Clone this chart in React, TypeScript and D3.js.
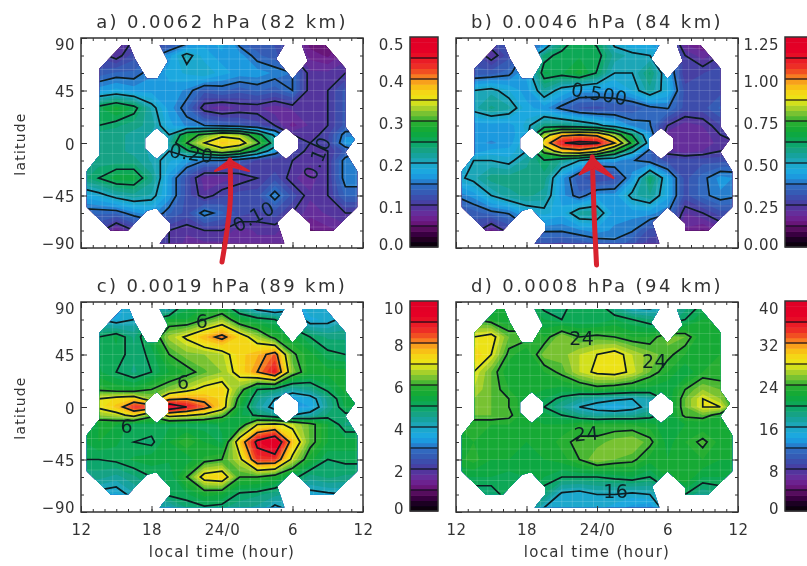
import React, { useEffect, useRef } from "react";
import * as d3 from "d3";

// grid the maps were read on
const hours = [12, 13.5, 15, 16.5, 18, 19.5, 21, 22.5, 24, 25.5, 27, 28.5, 30, 31.5, 33, 34.5, 36];
const lats = [90, 75, 60, 45, 30, 15, 7, 0, -7, -15, -30, -45, -60, -75, -90];

const gridA = [
  [.1, .1, .09, .1, .1, .1, .12, .17, .19, .13, .13, .12, .1, .05, .05, .07, .08],
  [.11, .11, .09, .12, .14, .17, .21, .18, .17, .17, .14, .13, .1, .07, .06, .08, .08],
  [.13, .13, .14, .14, .16, .18, .19, .2, .18, .17, .17, .16, .15, .09, .09, .1, .1],
  [.17, .17, .18, .17, .17, .17, .16, .13, .14, .13, .14, .13, .15, .09, .1, .13, .13],
  [.25, .26, .28, .26, .21, .17, .14, .09, .08, .09, .09, .08, .09, .09, .1, .13, .13],
  [.24, .25, .24, .23, .22, .18, .16, .15, .14, .13, .12, .1, .07, .09, .1, .13, .13],
  [.23, .23, .23, .22, .21, .2, .28, .31, .34, .33, .27, .19, .1, .09, .11, .16, .16],
  [.23, .23, .23, .22, .21, .22, .3, .35, .38, .37, .31, .23, .1, .1, .11, .17, .17],
  [.23, .23, .23, .22, .21, .2, .24, .3, .33, .3, .24, .17, .12, .09, .1, .13, .15],
  [.23, .23, .23, .23, .21, .19, .17, .15, .15, .13, .11, .1, .1, .09, .1, .16, .16],
  [.23, .25, .27, .27, .23, .17, .12, .08, .08, .09, .1, .12, .09, .08, .1, .16, .16],
  [.18, .19, .21, .22, .21, .17, .12, .09, .11, .12, .12, .16, .12, .09, .1, .14, .14],
  [.14, .14, .14, .16, .17, .14, .12, .16, .14, .12, .11, .12, .1, .08, .09, .1, .1],
  [.11, .11, .07, .1, .12, .1, .09, .1, .1, .08, .09, .09, .08, .06, .07, .08, .08],
  [.1, .1, .08, .1, .1, .1, .08, .08, .08, .08, .08, .08, .08, .06, .06, .08, .08],
];

const gridB = [
  [.4, .35, .3, .35, .4, .3, .55, .65, .6, .45, .4, .4, .35, .15, .15, .2, .2],
  [.35, .3, .22, .3, .4, .6, .65, .65, .65, .55, .52, .5, .45, .25, .2, .25, .25],
  [.32, .32, .33, .36, .45, .66, .65, .7, .62, .5, .5, .6, .45, .25, .28, .3, .3],
  [.5, .5, .52, .47, .42, .55, .47, .42, .42, .42, .47, .55, .47, .3, .3, .3, .3],
  [.52, .52, .57, .54, .45, .42, .36, .31, .3, .32, .32, .36, .38, .3, .3, .35, .35],
  [.42, .42, .42, .42, .48, .58, .58, .56, .52, .46, .4, .38, .25, .2, .22, .28, .3],
  [.42, .42, .42, .42, .47, .82, .98, 1, .98, .82, .62, .42, .2, .2, .2, .25, .3],
  [.42, .42, .4, .42, .5, .94, 1.12, 1.15, 1.14, 1, .72, .45, .22, .2, .2, .23, .25],
  [.42, .42, .45, .45, .5, .78, .94, .97, .9, .72, .52, .35, .23, .2, .22, .25, .3],
  [.45, .5, .5, .48, .55, .62, .56, .5, .42, .42, .38, .35, .3, .3, .3, .3, .32],
  [.48, .52, .58, .58, .58, .58, .42, .32, .28, .3, .42, .62, .45, .3, .36, .42, .4],
  [.38, .42, .5, .55, .57, .55, .42, .35, .42, .42, .52, .56, .45, .3, .36, .4, .38],
  [.3, .33, .36, .38, .45, .48, .45, .55, .55, .42, .42, .42, .38, .22, .25, .3, .3],
  [.28, .28, .18, .28, .35, .38, .38, .4, .42, .4, .38, .3, .3, .18, .15, .2, .22],
  [.3, .25, .2, .25, .3, .3, .28, .3, .32, .35, .3, .25, .22, .15, .15, .2, .2],
];

const gridC = [
  [3.5, 3.5, 3.5, 4, 4, 3, 5, 5.3, 5, 4, 3, 2.5, 3.5, 4, 3.8, 4, 4],
  [4, 4, 3.7, 4, 5, 5.6, 5.5, 6, 6.5, 5.5, 5.2, 5, 4.5, 3.7, 3.8, 4.2, 4.2],
  [5, 5, 5.3, 4.7, 5.5, 6.6, 7.1, 7.7, 8.2, 7.4, 6.6, 5.8, 5.5, 5, 4.7, 4.7, 4.7],
  [5, 5.2, 5.2, 4.8, 5.1, 6, 6.4, 6.5, 6.7, 7.4, 7.7, 8.3, 6.1, 5.6, 5.1, 5, 5],
  [5.3, 5.3, 5, 4.7, 5, 5.5, 5.8, 6.2, 6.5, 7.3, 8, 8.9, 6.4, 5.6, 5.6, 5.6, 5.6],
  [5.8, 5.9, 5.7, 5.6, 6, 6.4, 6.8, 7.2, 7.4, 6.3, 5, 4.8, 4.3, 4.6, 5.1, 5.6, 5.6],
  [6, 7, 7.3, 7.5, 6.5, 7.8, 8, 7.8, 7.4, 5.8, 4.6, 4, 3.5, 3.7, 4.6, 5.4, 5.4],
  [6, 7.1, 7.6, 8.7, 8.5, 9.7, 9, 8.3, 7.4, 5.5, 4.4, 3.8, 3.4, 3.5, 4.5, 5.3, 5.3],
  [5.8, 6.5, 6.7, 7.3, 6.2, 7.3, 7.1, 6.8, 6.2, 5.3, 4.9, 4.5, 4, 4.3, 4.8, 4.9, 4.9],
  [5, 5.5, 5.5, 5.1, 5.2, 5.2, 5.1, 5.1, 5.3, 5.5, 7, 7.2, 6.8, 6.2, 5.5, 4.7, 4.7],
  [5.2, 5.5, 5.3, 5, 4.9, 5.5, 6, 5.5, 5.2, 7.5, 9.2, 9.9, 7.6, 6.2, 5.5, 5.4, 5.4],
  [5, 5, 5.1, 5.3, 5.4, 5.3, 5.3, 5.8, 6, 6.8, 8.6, 8.6, 6.8, 5.6, 5, 5.1, 5.1],
  [4.6, 4.6, 4.4, 4.7, 5, 5, 6, 7.3, 7.5, 6, 6, 5.7, 5.2, 4.6, 4.8, 4.7, 4.7],
  [3.8, 3.8, 3.7, 4.2, 4.6, 5.1, 5.2, 5.6, 5.5, 4.9, 4.8, 4.6, 4.4, 3.8, 3.9, 4, 4],
  [4, 4, 4, 4, 4.2, 3.8, 4.6, 4.7, 4.6, 4.5, 4.3, 3.6, 4, 4, 4, 4, 4],
];

const gridD = [
  [22, 22, 22, 22, 21, 19, 19, 21, 20, 17, 14, 14, 16, 18, 20, 20, 20],
  [24, 24, 23, 22, 23, 21, 20, 20, 20, 21, 20, 19, 18, 20, 22, 22, 22],
  [27, 28, 29, 25, 24.5, 23, 26, 24, 24.5, 24, 23, 23, 25.5, 25, 22, 22, 22],
  [29, 30, 28, 23.5, 22, 25.5, 25.5, 27, 28, 29, 27, 25.5, 24.5, 23, 22, 23, 23],
  [28, 28, 25, 22, 22, 23, 24.5, 27, 28.5, 29, 27.5, 25, 23, 21, 23, 23, 23],
  [28, 27, 25, 23, 22, 22, 21.5, 22, 23, 22.5, 22, 21.5, 21, 24, 26, 25, 25],
  [26, 26, 25, 24, 22, 21, 19.5, 18, 17, 16.5, 16, 17, 21, 25, 28, 26, 22],
  [25, 25, 25, 24, 22, 20, 18, 16, 15, 14, 15, 17, 21, 25, 28, 28, 22],
  [24, 25, 25, 24.5, 22, 21.5, 20, 18.5, 17.5, 18, 18, 19, 21, 24.5, 25, 23, 22],
  [23, 23, 23, 23, 22, 22, 22, 23, 23, 23, 23, 22.5, 21, 22, 22, 22, 22],
  [22, 23, 22, 22, 22, 22, 23.5, 24.5, 24.5, 25.5, 26, 24.5, 21.5, 23, 24.5, 22.5, 22],
  [22.5, 23.5, 22, 22, 21.5, 22, 22.5, 24, 26, 25, 24.5, 22.5, 22, 22, 23, 22, 22],
  [21, 21, 21, 20.5, 21, 21, 20, 20, 20, 20.5, 21, 20, 22, 23, 21, 21, 21],
  [19, 19, 19, 21, 21, 19, 15.5, 15, 16, 16, 15.5, 16, 19, 20, 18, 19, 19],
  [20, 20, 20, 20, 18, 15, 15, 15, 15, 14, 13, 12, 17, 19, 19, 19, 19],
];

// where the satellite sampled: outline and the two holes, [hour, latitude]
const outline = [
  [15.5, 84], [16.1, 84], [16.6, 72], [17.6, 55], [18.5, 55], [19.4, 70], [18.7, 84], [29.3, 84],
  [28.6, 72], [30, 55], [31.3, 70], [30.8, 84], [32.8, 84], [34.5, 64], [34.5, 14], [35.3, 3],
  [34.5, -8], [35.5, -24], [35.5, -55], [33.5, -75], [31.5, -75], [31.5, -69], [30, -55], [28.7, -68],
  [29.3, -86], [18.7, -86], [19.6, -75], [19.6, -69], [18.4, -56], [17.6, -58], [16, -75], [14.5, -75],
  [12.5, -55], [12.5, -24], [13.6, -10], [13.6, 64],
];
const holeDusk = [[18.45, 13], [19.45, 4], [19.45, -5], [18.45, -14], [17.45, -5], [17.45, 4]];
const holeDawn = [[29.45, 13], [30.5, 4], [30.5, -5], [29.45, -14], [28.4, -5], [28.4, 4]];

const hourTicks = [12, 18, 24, 30, 36];
const hourLabels = ["12", "18", "24/0", "6", "12"];
const latTicks = [90, 45, 0, -45, -90];

const colorStops = [
  "#000000", "#2a0030", "#640a6c", "#6e2a9a", "#4a3a9e", "#3a55b0", "#2c70c4", "#18a8e8", "#20a8c4", "#14a090", "#0ca860",
  "#10a838", "#30b030", "#90c830", "#e8e818", "#f8d010", "#f89020", "#ee3a24", "#e81028", "#e40028", "#e00028",
];

const panels = [
  {
    id: "a", title: "a) 0.0062 hPa (82 km)", grid: gridA, max: 0.5, left: 81, top: 38, barX: 410,
    barTicks: [0, 0.1, 0.2, 0.3, 0.4, 0.5], barFormat: ".1f", showLat: true, showHour: false,
    notes: [
      { text: "0.20", hour: 21.4, lat: -9, angle: 8 },
      { text: "0.10", hour: 26.7, lat: -63, angle: -28 },
      { text: "0.10", hour: 32.1, lat: -13, angle: -68 },
    ],
    arrow: { tip: [24.68, -14.5], left: [23.4, -24], right: [26.3, -24], notch: [24.7, -20], tail: [[24.68, -14.5], [24.7, -50], [24.35, -80], [24, -102]] },
  },
  {
    id: "b", title: "b) 0.0046 hPa (84 km)", grid: gridB, max: 1.25, left: 456, top: 38, barX: 785,
    barTicks: [0, 0.25, 0.5, 0.75, 1, 1.25], barFormat: ".2f", showLat: false, showHour: false,
    notes: [{ text: "0.500", hour: 24.2, lat: 42, angle: 10 }],
    arrow: { tip: [23.6, -12], left: [22.5, -27], right: [25.4, -30], notch: [23.7, -21], tail: [[23.6, -12], [23.75, -60], [23.96, -104.5]] },
  },
  {
    id: "c", title: "c) 0.0019 hPa (89 km)", grid: gridC, max: 10, left: 81, top: 302, barX: 410,
    barTicks: [0, 2, 4, 6, 8, 10], barFormat: "d", showLat: true, showHour: true,
    notes: [
      { text: "6", hour: 22.3, lat: 73, angle: 0 },
      { text: "6", hour: 20.7, lat: 21, angle: 0 },
      { text: "6", hour: 15.9, lat: -17, angle: 0 },
    ],
  },
  {
    id: "d", title: "d) 0.0008 hPa (94 km)", grid: gridD, max: 40, left: 456, top: 302, barX: 785,
    barTicks: [0, 8, 16, 24, 32, 40], barFormat: "d", showLat: false, showHour: true,
    notes: [
      { text: "24", hour: 22.7, lat: 59, angle: 0 },
      { text: "24", hour: 28.9, lat: 39, angle: 0 },
      { text: "24", hour: 23.1, lat: -23, angle: -5 },
      { text: "16", hour: 25.6, lat: -72, angle: 0 },
    ],
  },
];

const plotW = 282;
const plotH = 210;
const barW = 28;
const ink = "#333333";
const labelFont = "'DejaVu Sans', sans-serif";

export default function App() {
  const svgRef = useRef<SVGSVGElement>(null);

  useEffect(() => {
    const svg = d3.select(svgRef.current);
    svg.selectAll("*").remove();

    const defs = svg.append("defs");
    defs
      .append("filter")
      .attr("id", "soft")
      .attr("x", "-2%")
      .attr("y", "-2%")
      .attr("width", "104%")
      .attr("height", "104%")
      .append("feGaussianBlur")
      .attr("stdDeviation", 0.7);

    const root = svg.append("g").attr("filter", "url(#soft)");
    const colorT = d3
      .scaleLinear<string>()
      .domain(colorStops.map((_, i) => i / (colorStops.length - 1)))
      .range(colorStops);

    // IDL squeezes the end labels inside the axis
    const labelShift = (sel, last: number, top: number, mid: number, bottom: number) =>
      sel.attr("dy", (_, i) => `${(i === 0 ? bottom : i === last ? top : mid) + 5}px`);

    panels.forEach((p) => {
      const x = d3.scaleLinear().domain([12, 36]).range([p.left, p.left + plotW]);
      const y = d3.scaleLinear().domain([-90, 90]).range([p.top + plotH, p.top]);
      const colX = d3.scaleLinear().domain(d3.range(hours.length)).range(hours).clamp(true);
      const rowY = d3.scaleLinear().domain(d3.range(lats.length)).range(lats).clamp(true);

      const step = p.max / 40;
      const fillLevels = d3.range(0, 40).map((i) => i * step);
      const lineLevels = d3.range(1, 10).map((i) => (i * p.max) / 10);

      const values = p.grid.flat();
      const contours = d3.contours().size([hours.length, lats.length]).smooth(true);
      const path = d3.geoPath(
        d3.geoTransform({
          point(px, py) {
            this.stream.point(x(colX(px - 0.5)), y(rowY(py - 0.5)));
          },
        })
      );

      const ring = (pts: number[][]) =>
        "M" + pts.map((d) => `${x(d[0])},${y(d[1])}`).join("L") + "Z";
      defs
        .append("clipPath")
        .attr("id", `mask-${p.id}`)
        .append("path")
        .attr("clip-rule", "evenodd")
        .attr("d", ring(outline) + ring(holeDusk) + ring(holeDawn));

      const g = root.append("g");
      const map = g.append("g").attr("clip-path", `url(#mask-${p.id})`);

      map
        .selectAll("path.band")
        .data(contours.thresholds(fillLevels)(values))
        .enter()
        .append("path")
        .attr("class", "band")
        .attr("d", (d) => path(d))
        .attr("fill", (d) => colorT((d.value + step / 2) / p.max));

      // faint white mesh of the original map
      const meshHours = d3.range(12, 36, 0.9);
      const meshLats = d3.range(-90, 90, 9);
      map
        .selectAll("line.mh")
        .data(meshHours)
        .enter()
        .append("line")
        .attr("x1", (d) => x(d))
        .attr("x2", (d) => x(d))
        .attr("y1", p.top)
        .attr("y2", p.top + plotH)
        .attr("stroke", "#fff")
        .attr("stroke-opacity", 0.14);
      map
        .selectAll("line.ml")
        .data(meshLats)
        .enter()
        .append("line")
        .attr("x1", p.left)
        .attr("x2", p.left + plotW)
        .attr("y1", (d) => y(d))
        .attr("y2", (d) => y(d))
        .attr("stroke", "#fff")
        .attr("stroke-opacity", 0.14);

      map
        .selectAll("path.iso")
        .data(contours.thresholds(lineLevels)(values))
        .enter()
        .append("path")
        .attr("class", "iso")
        .attr("d", (d) => path(d))
        .attr("fill", "none")
        .attr("stroke", "#0c1c20")
        .attr("stroke-width", 1.7);

      // contour labels
      g.selectAll("text.note")
        .data(p.notes)
        .enter()
        .append("text")
        .attr("transform", (d) => `translate(${x(d.hour)},${y(d.lat)}) rotate(${d.angle})`)
        .attr("text-anchor", "middle")
        .attr("dy", "0.35em")
        .attr("font-family", labelFont)
        .attr("font-size", 19)
        .attr("letter-spacing", 0.5)
        .attr("fill", "#0c2428")
        .text((d) => d.text);

      // frame and axes
      g.append("rect")
        .attr("x", p.left)
        .attr("y", p.top)
        .attr("width", plotW)
        .attr("height", plotH)
        .attr("fill", "none")
        .attr("stroke", ink)
        .attr("stroke-width", 1.5);

      const minorHours = d3.range(12, 36.01, 1);
      const minorLats = d3.range(-90, 90.01, 15);
      const tickAxes = [
        d3.axisBottom(x).tickValues(minorHours).tickSize(-3).tickFormat(() => ""),
        d3.axisTop(x).tickValues(minorHours).tickSize(-3).tickFormat(() => ""),
        d3.axisLeft(y).tickValues(minorLats).tickSize(-3).tickFormat(() => ""),
        d3.axisRight(y).tickValues(minorLats).tickSize(-3).tickFormat(() => ""),
        d3.axisBottom(x).tickValues(hourTicks).tickSize(-6).tickFormat(() => ""),
        d3.axisTop(x).tickValues(hourTicks).tickSize(-6).tickFormat(() => ""),
        d3.axisLeft(y).tickValues(latTicks).tickSize(-6).tickFormat(() => ""),
        d3.axisRight(y).tickValues(latTicks).tickSize(-6).tickFormat(() => ""),
      ];
      const axisPos = [
        [0, p.top + plotH], [0, p.top], [p.left, 0], [p.left + plotW, 0],
        [0, p.top + plotH], [0, p.top], [p.left, 0], [p.left + plotW, 0],
      ];
      tickAxes.forEach((axis, i) => {
        const a = g.append("g").attr("transform", `translate(${axisPos[i][0]},${axisPos[i][1]})`).call(axis);
        a.select(".domain").remove();
        a.selectAll("line").attr("stroke", ink);
      });

      if (p.showLat) {
        const a = g
          .append("g")
          .attr("transform", `translate(${p.left},0)`)
          .call(
            d3.axisLeft(y).tickValues(latTicks).tickSize(0).tickPadding(6)
              .tickFormat((d) => String(d).replace("-", "\u2212"))
          );
        a.select(".domain").remove();
        a.selectAll("text")
          .attr("font-family", labelFont)
          .attr("font-size", 15)
          .attr("letter-spacing", 0.5)
          .attr("fill", ink)
          .attr("dy", (d) => `${(d === 90 ? 6 : d === -90 ? -5 : 1) + 5}px`);
        g.append("text")
          .attr("transform", `translate(${p.left - 56},${p.top + plotH / 2 + 1}) rotate(-90)`)
          .attr("text-anchor", "middle")
          .attr("font-family", labelFont)
          .attr("font-size", 14)
          .attr("letter-spacing", 1.2)
          .attr("fill", ink)
          .text("latitude");
      }

      if (p.showHour) {
        const a = g
          .append("g")
          .attr("transform", `translate(0,${p.top + plotH})`)
          .call(
            d3.axisBottom(x).tickValues(hourTicks).tickSize(0).tickPadding(12)
              .tickFormat((_, i) => hourLabels[i])
          );
        a.select(".domain").remove();
        a.selectAll("text")
          .attr("font-family", labelFont)
          .attr("font-size", 15)
          .attr("letter-spacing", 0.5)
          .attr("fill", ink);
        g.append("text")
          .attr("x", p.left + plotW / 2)
          .attr("y", p.top + plotH + 45)
          .attr("text-anchor", "middle")
          .attr("font-family", labelFont)
          .attr("font-size", 15)
          .attr("letter-spacing", 1.3)
          .attr("fill", ink)
          .text("local time (hour)");
      }

      g.append("text")
        .attr("x", p.left + plotW / 2)
        .attr("y", p.top - 10)
        .attr("text-anchor", "middle")
        .attr("font-family", labelFont)
        .attr("font-size", 18)
        .attr("letter-spacing", 2.4)
        .attr("fill", ink)
        .text(p.title);

      // colour bar
      const barY = d3.scaleLinear().domain([0, p.max]).range([p.top + plotH - 1, p.top - 1]);
      g.selectAll("rect.lvl")
        .data(fillLevels)
        .enter()
        .append("rect")
        .attr("x", p.barX)
        .attr("width", barW)
        .attr("y", (d) => barY(d + step))
        .attr("height", (d) => barY(d) - barY(d + step) + 0.5)
        .attr("fill", (d) => colorT((d + step / 2) / p.max));
      g.selectAll("line.lvl")
        .data(lineLevels)
        .enter()
        .append("line")
        .attr("x1", p.barX)
        .attr("x2", p.barX + barW)
        .attr("y1", (d) => barY(d))
        .attr("y2", (d) => barY(d))
        .attr("stroke", "#10101a")
        .attr("stroke-width", 1.2);
      g.append("rect")
        .attr("x", p.barX)
        .attr("y", p.top - 1)
        .attr("width", barW)
        .attr("height", plotH)
        .attr("fill", "none")
        .attr("stroke", ink)
        .attr("stroke-width", 1.5);
      const barAxis = g
        .append("g")
        .attr("transform", `translate(${p.barX},0)`)
        .call(d3.axisLeft(barY).tickValues(p.barTicks).tickSize(0).tickPadding(6).tickFormat(d3.format(p.barFormat)));
      barAxis.select(".domain").remove();
      labelShift(
        barAxis.selectAll("text")
          .attr("font-family", labelFont)
          .attr("font-size", 15)
          .attr("letter-spacing", 0.5)
          .attr("fill", ink),
        p.barTicks.length - 1, 7, 2, -3
      );

      // red arrow drawn over the map
      if (p.arrow) {
        const line = d3.line().x((d) => x(d[0])).y((d) => y(d[1])).curve(d3.curveCatmullRom);
        g.append("path")
          .attr("d", line(p.arrow.tail))
          .attr("fill", "none")
          .attr("stroke", "#d8202e")
          .attr("stroke-width", 5)
          .attr("stroke-linecap", "round");
        g.append("path")
          .attr("d", ring([p.arrow.left, p.arrow.tip, p.arrow.right, p.arrow.notch]))
          .attr("fill", "#d8202e")
          .attr("stroke", "#d8202e")
          .attr("stroke-width", 2)
          .attr("stroke-linejoin", "round");
      }
    });
  }, []);

  return (
    <svg
      ref={svgRef}
      width={807}
      height={566}
      style={{ position: "absolute", left: 0, top: 0, background: "#fff" }}
    />
  );
}
